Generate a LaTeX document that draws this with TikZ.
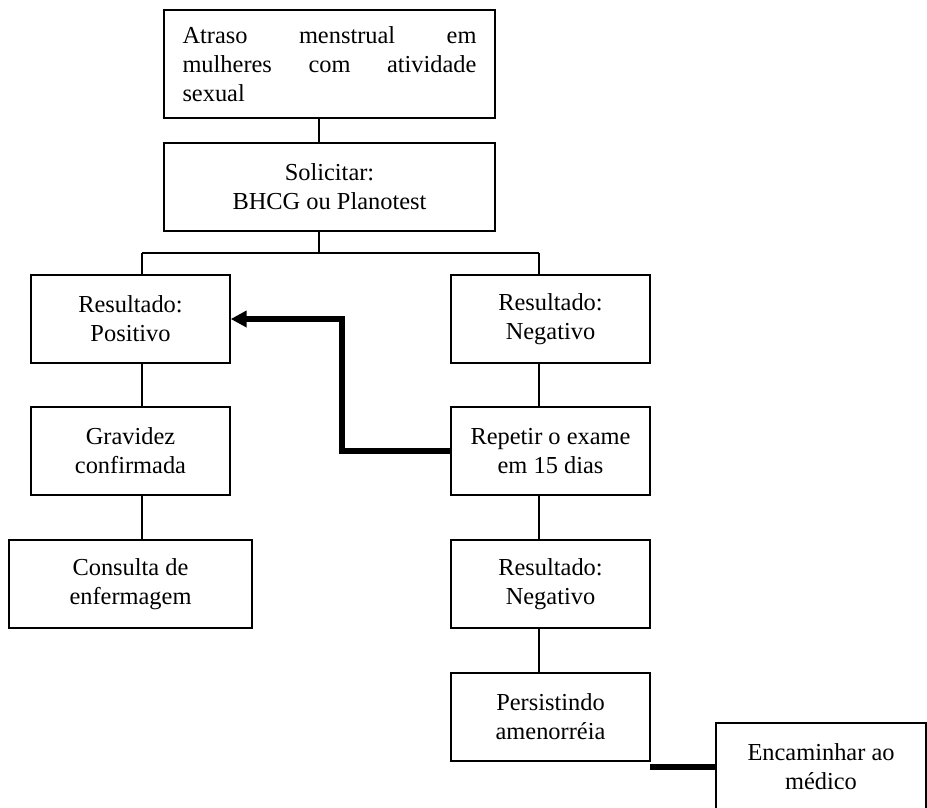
\documentclass[tikz,border=0pt]{standalone}
\usepackage{fontspec}
\setmainfont{Liberation Serif}
\usetikzlibrary{arrows.meta}
\begin{document}
\begin{tikzpicture}[x=0.75pt,y=-0.75pt,
  box/.style={draw, line width=1.1pt, rectangle, inner sep=0pt, align=center,
    font=\fontsize{18.3pt}{21.75pt}\selectfont, minimum height=66pt},
  narrow/.style={box, minimum width=149.25pt},
  link/.style={line width=1.1pt},
  heavy/.style={line width=3.9pt}]
\useasboundingbox (0,0) rectangle (927,807);
\fill[white] (0,0) rectangle (927,807);

% boxes
\node[box, minimum width=248.25pt, minimum height=81pt, text width=220.5pt, align=left] (b1) at (329.5,64)
  {\noindent Atraso\hfill menstrual\hfill em\\mulheres\hfill com\hfill atividade\\sexual};
\node[box, minimum width=248.25pt] (b2) at (329.5,187) {Solicitar:\\BHCG ou Planotest};
\node[narrow] (b3) at (130.5,319) {Resultado:\\Positivo};
\node[narrow] (b4) at (550.5,319) {Resultado:\\Negativo};
\node[narrow] (b5) at (130.5,451) {Gravidez\\confirmada};
\node[narrow] (b6) at (550.5,451) {Repetir o exame\\em 15 dias};
\node[box, minimum width=182.25pt] (b7) at (130.5,584) {Consulta de\\enfermagem};
\node[narrow] (b8) at (550.5,584) {Resultado:\\Negativo};
\node[narrow] (b9) at (550.5,717) {Persistindo\\amenorréia};
\node[box, minimum width=157.5pt] (b10) at (821,767) {Encaminhar ao\\médico};

% branch points
\coordinate (trunk) at (319,253);
\coordinate (lx) at (142,253);
\coordinate (rx) at (539,253);
\coordinate (bend) at (342,451);
\coordinate (lk) at (650,767);

% thin connectors
\draw[link] (b1.south -| trunk) -- (b2.north -| trunk);
\draw[link] (b2.south -| trunk) -- (trunk);
\draw[link] (lx) -- (rx);
\draw[link] (lx) -- (b3.north -| lx);
\draw[link] (rx) -- (b4.north -| rx);
\draw[link] (b3.south -| lx) -- (b5.north -| lx);
\draw[link] (b5.south -| lx) -- (b7.north -| lx);
\draw[link] (b4.south -| rx) -- (b6.north -| rx);
\draw[link] (b6.south -| rx) -- (b8.north -| rx);
\draw[link] (b8.south -| rx) -- (b9.north -| rx);

% heavy connectors
\draw[heavy, -{Triangle[length=12pt,width=12pt]}] (b6.west) -- (bend) |- (b3.east);
\draw[heavy] (lk) -- (b10.west);
\end{tikzpicture}
\end{document}
